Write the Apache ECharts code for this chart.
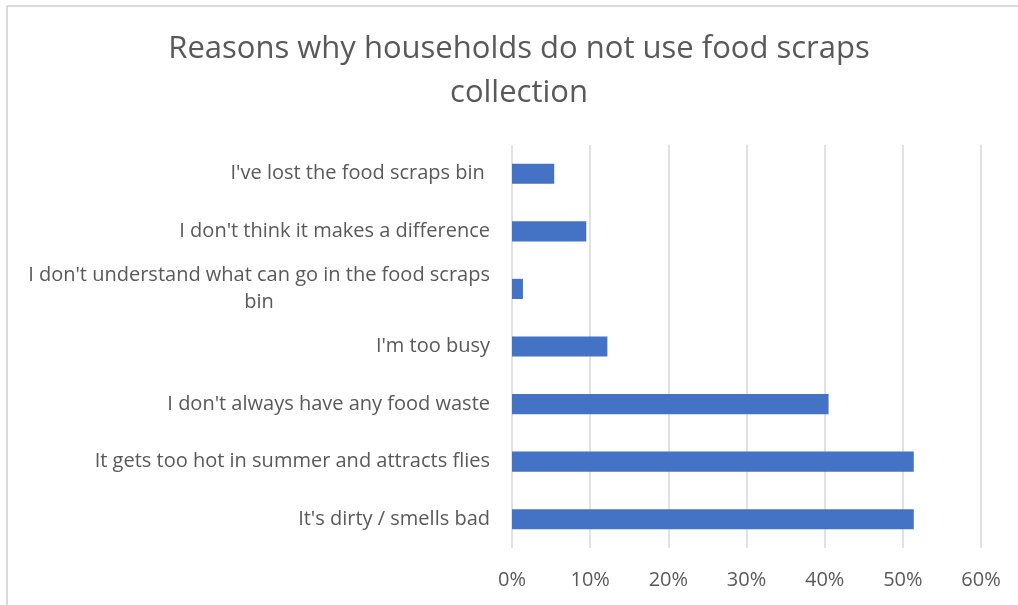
<!DOCTYPE html>
<html>
<head>
<meta charset="utf-8">
<script src="https://cdn.jsdelivr.net/npm/echarts@6/dist/echarts.min.js"></script>
<style>
  html, body { margin: 0; padding: 0; background: #ffffff; }
  #chart { width: 1018px; height: 605px; }
</style>
</head>
<body>
<div id="chart"></div>
<script>
// Reasons, listed bottom to top as the category axis draws them
const reasons = [
  "It's dirty / smells bad",
  "It gets too hot in summer and attracts flies",
  "I don't always have any food waste",
  "I'm too busy",
  "I don't understand what can go in the food scraps bin",
  "I don't think it makes a difference",
  "I've lost the food scraps bin "
];
// Share of households giving each reason (%)
const shares = [51.4, 51.4, 40.5, 12.2, 1.4, 9.5, 5.4];
const titleText = "Reasons why households do not use food scraps\ncollection";

const FONT = "Open Sans";
const TEXT = "#595959";

// Wrap long labels onto a second line, centring each line in the block
function wrapLabel(s, maxChars) {
  const words = s.split(" ");
  const lines = [];
  let cur = "";
  words.forEach(w => {
    const next = cur ? cur + " " + w : w;
    if (next.length > maxChars && cur) { lines.push(cur); cur = w; }
    else cur = next;
  });
  if (cur) lines.push(cur);
  return lines;
}

const chart = echarts.init(document.getElementById("chart"), null, { renderer: "canvas" });
chart.setOption({
  animation: false,
  title: {
    text: titleText,
    left: 514,
    top: 22,
    textAlign: "center",
    textStyle: { fontFamily: FONT, fontSize: 31, fontWeight: "normal", color: TEXT, lineHeight: 44 }
  },
  graphic: [
    { type: "line", shape: { x1: 7, y1: 6, x2: 1018, y2: 6 }, style: { stroke: "#d9d9d9", lineWidth: 2 } },
    { type: "line", shape: { x1: 7, y1: 6, x2: 7, y2: 605 }, style: { stroke: "#d9d9d9", lineWidth: 2 } }
  ],
  grid: { left: 512, right: 37, top: 145, bottom: 57, containLabel: false },
  xAxis: {
    type: "value",
    min: 0,
    max: 60,
    interval: 10,
    axisLine: { show: false },
    axisTick: { show: false },
    splitLine: { show: true, lineStyle: { color: "#d9d9d9", width: 1.5 } },
    axisLabel: {
      formatter: "{value}%",
      margin: 22,
      fontFamily: FONT, fontSize: 20, color: TEXT
    }
  },
  yAxis: {
    type: "category",
    data: reasons,
    axisLine: { show: false },
    axisTick: { show: false },
    axisLabel: {
      margin: 22,
      fontFamily: FONT, fontSize: 20, color: TEXT,
      lineHeight: 27,
      formatter: v => wrapLabel(v, 50).map(l => "{c|" + l + "}").join("\n"),
      rich: { c: { align: "center", fontFamily: FONT, fontSize: 20, color: TEXT, lineHeight: 27 } }
    }
  },
  series: [{
    type: "bar",
    data: shares,
    barCategoryGap: "65%",
    itemStyle: { color: "#4472c4" }
  }]
});
</script>
</body>
</html>
